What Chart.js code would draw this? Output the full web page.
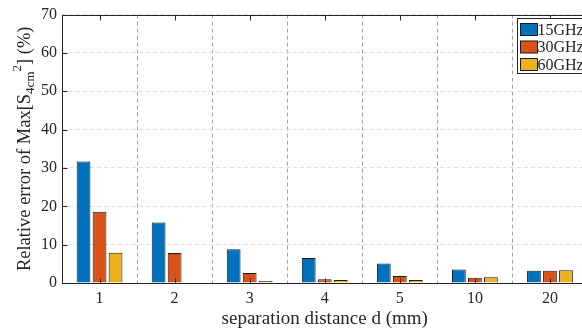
<!DOCTYPE html>
<html>
<head>
<meta charset="utf-8">
<script src="https://cdn.jsdelivr.net/npm/chart.js@4.4.1/dist/chart.umd.min.js"></script>
<style>
  html, body { margin: 0; padding: 0; background: #fff; overflow: hidden; }
  #wrap { width: 600px; height: 334px; }
</style>
</head>
<body>
<div id="wrap"><canvas id="chart" width="600" height="334"></canvas></div>
<script>
// separation distance categories (mm)
const distances = ['1', '2', '3', '4', '5', '10', '20'];
const seriesNames = ['15GHz', '30GHz', '60GHz'];
const err15 = [31.7, 15.8, 8.8, 6.5, 5.1, 3.5, 3.2];
const err30 = [18.6, 7.8, 2.6, 1.0, 1.85, 1.4, 3.2];
const err60 = [7.9, 0.1, 0.5, 0.8, 0.8, 1.5, 3.3];
const yTicks = [0, 10, 20, 30, 40, 50, 60, 70];

const colors = ['#0072BD', '#D95319', '#EDB120'];
const axisColor = '#262626';
const serif = '"Liberation Serif", "Times New Roman", serif';

// MATLAB-ish box, inward ticks, legend and the y label with sub/superscript
const matlabLook = {
  id: 'matlabLook',
  afterDatasetsDraw(chart) {
    const { ctx, chartArea: a, scales } = chart;
    const L = Math.round(a.left) + 0.5, R = Math.round(a.right) + 0.5;
    const T = Math.round(a.top) + 0.5, B = Math.round(a.bottom) + 0.5;
    ctx.save();
    ctx.strokeStyle = axisColor;
    ctx.lineWidth = 1;
    ctx.setLineDash([]);
    ctx.strokeRect(L, T, R - L, B - T);

    const tl = 5;
    ctx.beginPath();
    yTicks.forEach(v => {
      const y = Math.round(scales.y.getPixelForValue(v)) + 0.5;
      ctx.moveTo(L, y); ctx.lineTo(L + tl, y);
    });
    distances.forEach((d, i) => {
      const x = Math.round(scales.x.getPixelForValue(i)) + 0.5;
      ctx.moveTo(x, B); ctx.lineTo(x, B - tl);
      ctx.moveTo(x, T); ctx.lineTo(x, T + tl);
    });
    ctx.stroke();

    // legend
    const bx = Math.round(a.right - 71) + 0.5, by = Math.round(a.top + 3) + 0.5;
    ctx.fillStyle = '#fff';
    ctx.fillRect(bx, by, 80, 55);
    ctx.strokeStyle = '#262626';
    ctx.strokeRect(bx, by, 80, 55);
    ctx.font = '16px ' + serif;
    ctx.textBaseline = 'middle';
    chart.data.datasets.forEach((ds, i) => {
      const cy = by + 11 + i * 17.5;
      ctx.fillStyle = ds.backgroundColor;
      ctx.fillRect(bx + 3, cy - 6, 17, 12);
      ctx.strokeStyle = '#1a1a1a';
      ctx.strokeRect(bx + 3, cy - 6, 17, 12);
      ctx.fillStyle = axisColor;
      ctx.fillText(ds.label, bx + 20, cy + 1);
    });
    ctx.restore();
  },
  afterDraw(chart) {
    const { ctx, chartArea: a } = chart;
    const parts = [
      { t: 'Relative error of Max[S', f: 18.5, dy: 0 },
      { t: '4cm', f: 13, dy: 4 },
      { t: '2', f: 13, dy: -9 },
      { t: '] (%)', f: 18.5, dy: 0 }
    ];
    ctx.save();
    let total = 0;
    parts.forEach(p => { ctx.font = p.f + 'px ' + serif; p.w = ctx.measureText(p.t).width; total += p.w; });
    ctx.translate(30, (a.top + a.bottom) / 2);
    ctx.rotate(-Math.PI / 2);
    ctx.fillStyle = axisColor;
    ctx.textBaseline = 'alphabetic';
    let x = -total / 2;
    parts.forEach(p => {
      ctx.font = p.f + 'px ' + serif;
      ctx.fillText(p.t, x, p.dy);
      x += p.w;
    });
    ctx.restore();
  }
};

const ctx = document.getElementById('chart').getContext('2d');
new Chart(ctx, {
  type: 'bar',
  data: {
    labels: distances,
    datasets: [err15, err30, err60].map((vals, i) => ({
      label: seriesNames[i],
      data: vals,
      backgroundColor: colors[i],
      borderColor: '#1a1a1a',
      borderWidth: 1,
      categoryPercentage: 0.64,
      barPercentage: 0.86
    }))
  },
  options: {
    responsive: false,
    animation: false,
    layout: { padding: { top: 10, right: 12.5, left: 0, bottom: 0 } },
    plugins: {
      legend: { display: false },
      tooltip: { enabled: false }
    },
    scales: {
      x: {
        grid: { color: '#a3a3a3', lineWidth: 1, drawTicks: false, offset: true },
        border: { display: false, dash: [4, 3] },
        ticks: { color: axisColor, font: { family: serif, size: 16 }, padding: 6 },
        title: { display: true, text: 'separation distance d (mm)', color: axisColor,
                 font: { family: serif, size: 19 }, padding: { top: 2, bottom: 4 } },
        afterFit(scale) { scale.height = 51; }
      },
      y: {
        min: 0,
        max: 70,
        afterBuildTicks(scale) { scale.ticks = yTicks.map(v => ({ value: v })); },
        grid: { color: '#dedede', lineWidth: 1, drawTicks: false },
        border: { display: false, dash: [4, 3] },
        ticks: { color: axisColor, font: { family: serif, size: 16 }, padding: 5 },
        afterFit(scale) { scale.width = 62; }
      }
    }
  },
  plugins: [matlabLook]
});
</script>
</body>
</html>
